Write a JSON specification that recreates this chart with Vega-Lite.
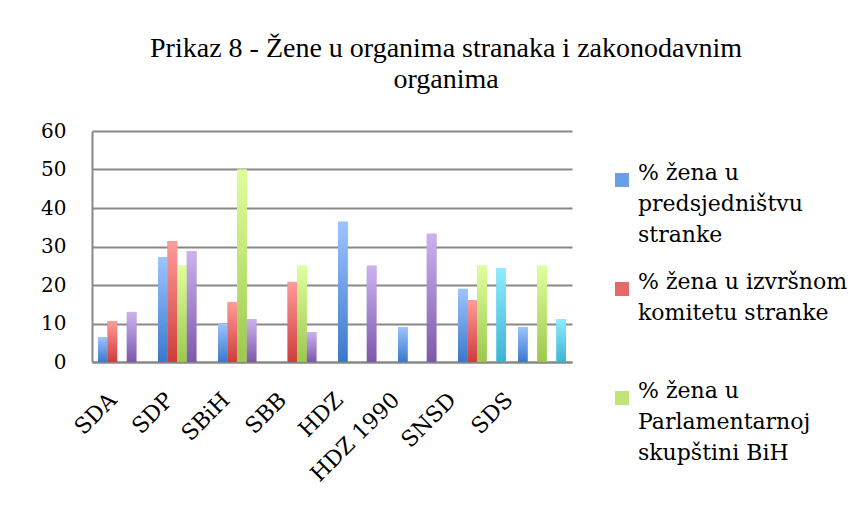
{
  "$schema": "https://vega.github.io/schema/vega-lite/v6.json",
  "width": 480,
  "height": 231,
  "autosize": "none",
  "padding": {"left": 92, "top": 131, "right": 293, "bottom": 152},
  "background": "white",
  "title": {
    "text": ["Prikaz 8 - Žene u organima stranaka i zakonodavnim", "organima"],
    "font": "Liberation Serif",
    "fontSize": 28,
    "fontWeight": "normal",
    "color": "black",
    "anchor": "middle",
    "frame": "group",
    "dx": 114,
    "offset": 27,
    "lineHeight": 31
  },
  "data": {
    "values": [
      {"party": "SDA", "series": "pred", "value": 6.5},
      {"party": "SDA", "series": "izv", "value": 10.6},
      {"party": "SDA", "series": "fbih", "value": 13.0},
      {"party": "SDP", "series": "pred", "value": 27.3},
      {"party": "SDP", "series": "izv", "value": 31.4},
      {"party": "SDP", "series": "psbih", "value": 25.0},
      {"party": "SDP", "series": "fbih", "value": 28.8},
      {"party": "SBiH", "series": "pred", "value": 10.0},
      {"party": "SBiH", "series": "izv", "value": 15.6},
      {"party": "SBiH", "series": "psbih", "value": 50.0},
      {"party": "SBiH", "series": "fbih", "value": 11.1},
      {"party": "SBB", "series": "izv", "value": 20.8},
      {"party": "SBB", "series": "psbih", "value": 25.0},
      {"party": "SBB", "series": "fbih", "value": 7.8},
      {"party": "HDZ", "series": "pred", "value": 36.4},
      {"party": "HDZ", "series": "fbih", "value": 25.0},
      {"party": "HDZ 1990", "series": "pred", "value": 9.1},
      {"party": "HDZ 1990", "series": "fbih", "value": 33.3},
      {"party": "SNSD", "series": "pred", "value": 19.0},
      {"party": "SNSD", "series": "izv", "value": 16.1},
      {"party": "SNSD", "series": "psbih", "value": 25.0},
      {"party": "SNSD", "series": "rs", "value": 24.4},
      {"party": "SDS", "series": "pred", "value": 9.1},
      {"party": "SDS", "series": "psbih", "value": 25.0},
      {"party": "SDS", "series": "rs", "value": 11.1}
    ]
  },
  "encoding": {
    "x": {
      "field": "party",
      "type": "nominal",
      "sort": ["SDA", "SDP", "SBiH", "SBB", "HDZ", "HDZ 1990", "SNSD", "SDS"],
      "scale": {"paddingInner": 0.2, "paddingOuter": 0.1},
      "axis": {
        "title": null,
        "labelAngle": -45,
        "labelAlign": "right",
        "labelBaseline": "middle",
        "labelFont": "DejaVu Serif",
        "labelFontSize": 22,
        "labelColor": "black",
        "labelPadding": 34,
        "labelOffset": {"expr": "-9 - 3.4 * indexof(['SDA','SDP','SBiH','SBB','HDZ','HDZ 1990','SNSD','SDS'], datum.value)"},
        "ticks": false,
        "domainColor": "#888888",
        "domainWidth": 2
      }
    },
    "xOffset": {
      "field": "series",
      "type": "nominal",
      "scale": {"domain": ["pred", "izv", "psbih", "fbih", "rs"], "paddingInner": 0, "paddingOuter": 0}
    },
    "y": {
      "field": "value",
      "type": "quantitative",
      "scale": {"domain": [0, 60], "nice": false},
      "axis": {
        "title": null,
        "values": [0, 10, 20, 30, 40, 50, 60],
        "labelFont": "DejaVu Serif",
        "labelFontSize": 20,
        "labelColor": "black",
        "labelPadding": 26,
        "ticks": false,
        "domainColor": "#888888",
        "domainWidth": 2,
        "gridColor": "#888888",
        "gridWidth": 2
      }
    }
  },
  "layer": [
    {
      "mark": {"type": "bar"},
      "encoding": {
        "color": {
          "field": "series",
          "type": "nominal",
          "scale": {
            "domain": ["pred", "izv", "psbih", "fbih", "rs"],
            "range": ["#6a9ee8", "#e86a68", "#c0e47a", "#a585cf", "#64d0ea"]
          },
          "legend": {
            "title": null,
            "orient": "none",
            "legendX": 519,
            "legendY": 38,
            "values": ["pred", "izv", "psbih"],
            "symbolType": "square",
            "symbolSize": 196,
            "symbolStrokeWidth": 0,
            "symbolOpacity": 1,
            "labelFont": "DejaVu Serif",
            "labelFontSize": 22,
            "labelColor": "black",
            "labelBaseline": "alphabetic",
            "labelOffset": 5,
            "labelLimit": 0,
            "gridAlign": "all",
            "rowPadding": 25,
            "labelExpr": "datum.label == 'pred' ? ['% žena u', 'predsjedništvu', 'stranke'] : datum.label == 'izv' ? ['% žena u izvršnom', 'komitetu stranke'] : ['% žena u', 'Parlamentarnoj', 'skupštini BiH']",
            "encode": {"labels": {"update": {"lineHeight": {"value": 31}}}}
          }
        }
      }
    },
    {
      "transform": [{"filter": "datum.series == 'pred'"}],
      "mark": {"type": "bar", "color": {"gradient": "linear", "x1": 0, "y1": 0, "x2": 0, "y2": 1, "stops": [{"offset": 0, "color": "#9ec4ff"}, {"offset": 1, "color": "#3a78cc"}]}}
    },
    {
      "transform": [{"filter": "datum.series == 'izv'"}],
      "mark": {"type": "bar", "color": {"gradient": "linear", "x1": 0, "y1": 0, "x2": 0, "y2": 1, "stops": [{"offset": 0, "color": "#ff9c9a"}, {"offset": 1, "color": "#cf3c3a"}]}}
    },
    {
      "transform": [{"filter": "datum.series == 'psbih'"}],
      "mark": {"type": "bar", "color": {"gradient": "linear", "x1": 0, "y1": 0, "x2": 0, "y2": 1, "stops": [{"offset": 0, "color": "#e0ff9c"}, {"offset": 1, "color": "#9cc84e"}]}}
    },
    {
      "transform": [{"filter": "datum.series == 'fbih'"}],
      "mark": {"type": "bar", "color": {"gradient": "linear", "x1": 0, "y1": 0, "x2": 0, "y2": 1, "stops": [{"offset": 0, "color": "#cbb3ee"}, {"offset": 1, "color": "#7c58ab"}]}}
    },
    {
      "transform": [{"filter": "datum.series == 'rs'"}],
      "mark": {"type": "bar", "color": {"gradient": "linear", "x1": 0, "y1": 0, "x2": 0, "y2": 1, "stops": [{"offset": 0, "color": "#90ecff"}, {"offset": 1, "color": "#3ab4d4"}]}}
    }
  ],
  "config": {"view": {"stroke": null}}
}
